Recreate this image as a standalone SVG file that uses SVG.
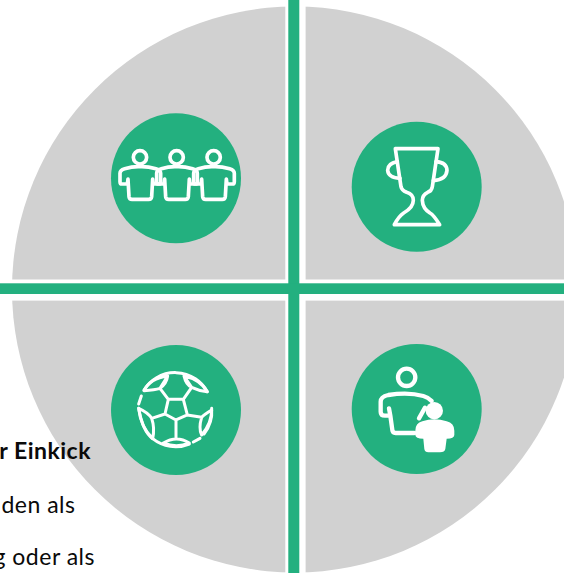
<svg xmlns="http://www.w3.org/2000/svg" width="564" height="573" viewBox="0 0 564 573">
<style>
.q{fill:#d1d1d1}
.b{fill:#23b07f}
.l{fill:none;stroke:#fff;stroke-linecap:round;stroke-linejoin:round}
.t{font-family:Lato,Carlito,"Open Sans",sans-serif;font-size:23px;letter-spacing:.5px;fill:#0a0a0a;text-anchor:end}
</style>
<defs>
<clipPath id="c"><circle cx="295" cy="289.500" r="283"/></clipPath>
<g id="shirt"><circle cx="0" cy="0" r="20" class="l" stroke-width="11"/><path class="l" stroke-width="11" d="M-36,65L-33,118Q-32,126-24,126H26Q34,126 35,118L38,65L40,80H56Q62,80 62,73V48Q62,38 48,34Q22,27 0,28Q-22,27-46,34Q-60,38-60,48V73Q-60,80-54,80H-38Z"/></g>
</defs>
<rect width="564" height="573" fill="#fff"/>
<g id="quadrants">
<g clip-path="url(#c)">
<rect class="q" x="0" y="0" width="285.300" height="279.500"/>
<rect class="q" x="305.600" y="0" width="260" height="279.500"/>
<rect class="q" x="0" y="300.600" width="285.300" height="273"/>
<rect class="q" x="305.600" y="300.600" width="260" height="273"/>
</g>
</g>
<g id="cross">
<rect class="b" x="288.300" y="0" width="11" height="573"/>
<rect class="b" x="0" y="283.300" width="564" height="10.700"/>
</g>
<g id="team">
<circle class="b" cx="176" cy="178.300" r="65"/>
<g transform="translate(100 105) scale(.3333)">
<use href="#shirt" x="120" y="157"/><use href="#shirt" x="230" y="157"/><use href="#shirt" x="341" y="157"/>
</g>
</g>
<g id="trophy">
<circle class="b" cx="416.700" cy="186.700" r="65"/>
<g transform="translate(345 115) scale(.3333)">
<path class="l" stroke-width="11" d="M151,101H279L262,215Q260,228 248,232Q232,240 232,256Q233,280 255,294Q266,300 284,329H148Q162,303 176,294Q205,278 205,256Q205,238 185,232Q170,226 168,215Z"/>
<path class="l" stroke-width="11" d="M157,140Q128,145 128,166Q130,188 165,190M273,140Q305,142 306,166Q304,194 265,197"/>
</g>
</g>
<g id="ball">
<circle class="b" cx="176" cy="410" r="65"/>
<g transform="translate(100 340) scale(.3333)">
<path class="l" stroke-width="9" d="M132,150A110,110 0 0 1 322,155M335,205A110,110 0 0 1 312,282M300,295L280,306M268,312A110,110 0 0 1 158,296Q128,275 116,205M116,192L124,168"/>
<path class="l" stroke-width="9" d="M205,178H250L262,225L228,240L195,222ZM205,178L180,145L203,108M250,178L275,142L252,108M195,222L155,235M262,225L305,232M228,240V296M132,152Q165,150 180,145Q200,130 203,108Q150,115 132,152ZM252,108Q258,135 275,142Q295,152 322,155Q300,118 252,108ZM116,205Q145,218 155,235Q165,265 158,296Q122,260 116,205ZM335,210Q310,225 305,232Q295,265 305,285Q335,250 335,210ZM190,309Q230,285 268,309Q230,325 190,309Z"/>
</g>
</g>
<g id="coach">
<circle class="b" cx="416.700" cy="409" r="65"/>
<g transform="translate(345 340) scale(.3333)">
<circle cx="185" cy="112" r="26" class="l" stroke-width="13"/>
<path class="l" stroke-width="13" d="M260,183Q250,172 235,168Q190,155 130,165Q107,170 107,185V215Q107,227 120,227H136L142,270Q143,279 152,279H208M136,227L132,205M240,203L222,235"/>
<circle cx="268" cy="212" r="26" fill="#fff"/>
<path d="M211,272Q211,250 232,244Q268,232 305,244Q328,250 328,272V285Q328,296 305,296L301,327Q299,337 285,337H250Q240,337 238,327L235,296Q211,296 211,285Z" fill="#fff"/>
</g>
</g>
<g id="caption">
<text class="t" x="91" y="459" font-weight="700">r Einkick</text>
<text class="t" x="75.500" y="512.500">den als</text>
<text class="t" x="95" y="565">g oder als</text>
</g>
</svg>
